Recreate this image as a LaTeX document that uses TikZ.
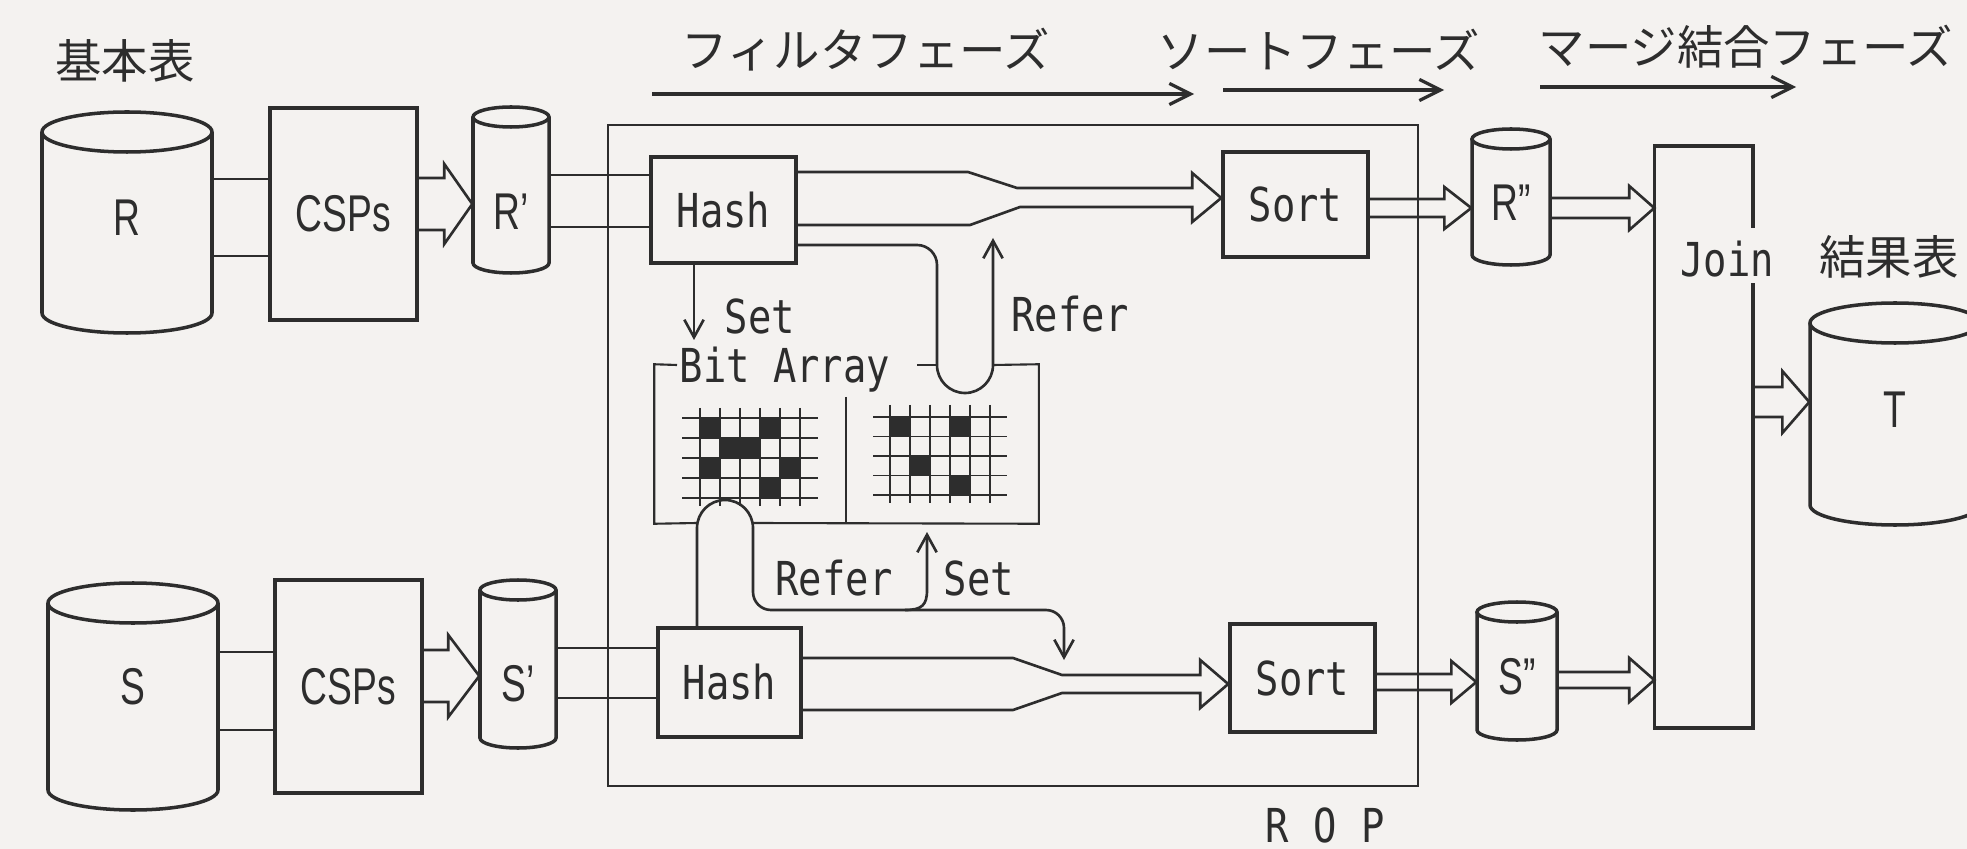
\documentclass[tikz,border=0pt]{standalone}
\usepackage{fontspec}
\usetikzlibrary{arrows.meta,calc}
\newfontfamily\jpf{Noto Sans CJK JP}
\newfontfamily\labf[FakeStretch=0.72]{Liberation Sans}
\newfontfamily\monof[FakeStretch=0.83]{DejaVu Sans Mono}
\definecolor{bg}{RGB}{244,242,240}
\definecolor{ink}{RGB}{45,45,45}
\tikzset{
  box/.style={draw=ink, line width=1pt, inner sep=0pt},
  conn/.style={draw=ink, line width=0.75pt, line join=miter},
  thinl/.style={draw=ink, line width=0.6pt},
  gridl/.style={draw=ink, line width=0.5pt},
  cyl/.style={draw=ink, line width=1pt},
  jp/.style={font=\jpf\fontsize{13.2}{14}\selectfont, text=ink, inner sep=0pt},
  lab/.style={font=\labf\fontsize{14.7}{16}\selectfont, text=ink, inner sep=0pt},
  mono/.style={font=\monof\fontsize{13.3}{15}\selectfont, text=ink, inner sep=0pt},
  barb/.style={-{Straight Barb[length=5pt,width=5.5pt]}},
}
% name, cx, ytop, yside, rx, ry, label y, label
\newcommand\dbcyl[8]{%
  \draw[cyl] (#2-#5,-#3) -- (#2-#5,-#4) arc[start angle=180,end angle=360,x radius=#5,y radius=#6] -- (#2+#5,-#3);
  \draw[cyl] (#2,-#3) ellipse[x radius=#5,y radius=#6];
  \path (#2,{-(#3+#4)/2}) node[inner sep=0pt, minimum width={2*#5*0.01cm}, minimum height={(#4-#3)*0.01cm}] (#1) {};
  \node[lab] (#1-t) at (#2,-#7) {#8};
}
% from, to, yc, half shaft, head length, head half
\newcommand\fatarr[6]{%
  \coordinate (ft) at (#2.west|-0,-#3);
  \draw[conn] (#1.east|-0,{-#3+#4}) -- ($(ft)+(-#5,#4)$) -- ($(ft)+(-#5,#6)$) -- (ft) -- ($(ft)+(-#5,-#6)$) -- ($(ft)+(-#5,-#4)$) -- (#1.east|-0,{-#3-#4});
}
\begin{document}
\begin{tikzpicture}[x=0.01cm,y=0.01cm]
\useasboundingbox (0,0) rectangle (1967,-849);
\fill[bg] (0,0) rectangle (1967,-849);

% ROP frame
\node[draw=ink, line width=0.6pt, inner sep=0pt, minimum width=8.1cm, minimum height=6.61cm] (rop) at (1013,-455.5) {};
\node[mono] (ropl) at (1325,-825) {R\kern7pt O\kern7pt P};

% phase labels
\node[jp] (base) at (125,-61) {基本表};
\node[jp] (ph1) at (866,-50) {フィルタフェーズ};
\node[jp] (ph2) at (1319,-50) {ソートフェーズ};
\node[jp] (ph3) at (1746,-47) {マージ結合フェーズ};
\node[jp] (res) at (1889,-257) {結果表};
\coordinate (p1s) at (652,-94); \coordinate (p1e) at (1194,-94);
\coordinate (p2s) at (1223,-90); \coordinate (p2e) at (1444,-90);
\coordinate (p3s) at (1540,-87); \coordinate (p3e) at (1796,-87);
\foreach \a/\b in {p1s/p1e,p2s/p2e,p3s/p3e}
  \draw[conn, line width=0.9pt, -{Straight Barb[length=6pt,width=6pt]}] (\a) -- (\b);

% cylinders
\dbcyl{R}{127}{132}{313}{85}{20}{218}{R}
\dbcyl{S}{133}{603}{790}{85}{20}{687}{S}
\dbcyl{Rp}{511}{117}{263}{38}{10}{212}{R’}
\dbcyl{Sp}{518}{590}{738}{38}{10}{684}{S’}
\dbcyl{Rpp}{1511}{139}{255}{39}{10}{203}{R”}
\dbcyl{Spp}{1517}{612}{730}{40}{10}{677}{S”}
\dbcyl{T}{1895}{323}{505}{85}{20}{410}{T}

% boxes
\node[box, minimum width=1.47cm, minimum height=2.12cm, lab] (csp1) at (343.5,-214) {CSPs};
\node[box, minimum width=1.47cm, minimum height=2.13cm, lab] (csp2) at (348.5,-686.5) {CSPs};
\node[box, minimum width=1.45cm, minimum height=1.06cm, mono] (hash1) at (723.5,-210) {Hash};
\node[box, minimum width=1.43cm, minimum height=1.09cm, mono] (hash2) at (729.5,-682.5) {Hash};
\node[box, minimum width=1.45cm, minimum height=1.05cm, mono] (sort1) at (1295.5,-204.5) {Sort};
\node[box, minimum width=1.45cm, minimum height=1.08cm, mono] (sort2) at (1302.5,-678) {Sort};

% Join box with gap for its label
\node[inner sep=0pt, minimum width=0.97cm, minimum height=5.8cm] (join) at (1703.5,-437) {};
\draw[box] (join.east|-0,-228) -- (join.north east) -- (join.north west) -- (join.south west) -- (join.south east) -- (join.east|-0,-283);
\node[mono] (joinl) at (1727,-259) {Join};

% plain double lines
\foreach \y in {179,256} \draw[conn] (R.east|-0,-\y) -- (csp1.west|-0,-\y);
\foreach \y in {652,730} \draw[conn] (S.east|-0,-\y) -- (csp2.west|-0,-\y);
\foreach \y in {175,227} \draw[conn] (Rp.east|-0,-\y) -- (hash1.west|-0,-\y);
\foreach \y in {648,698} \draw[conn] (Sp.east|-0,-\y) -- (hash2.west|-0,-\y);

% fat arrows
\fatarr{csp1}{Rp}{204}{26}{28}{40}
\fatarr{csp2}{Sp}{676}{26}{31}{41}
\fatarr{sort1}{Rpp}{208}{9}{27}{21}
\fatarr{sort2}{Spp}{682}{8}{25}{21}
\fatarr{Rpp}{join}{208}{10}{25}{22}
\fatarr{Spp}{join}{680}{8}{25}{22}
\fatarr{join}{T}{402}{15}{27}{31}

% tapered Hash -> Sort arrows
\coordinate (t1) at (sort1.west|-0,-198);
\draw[conn] (hash1.east|-0,-172) -- (968,-172) -- (1017,-188) -- ($(t1)+(-29,10)$) -- ($(t1)+(-29,25)$) -- (t1) -- ($(t1)+(-29,-24)$) -- ($(t1)+(-29,-9)$) -- (1020,-207) -- (970,-225) -- (hash1.east|-0,-225);
\coordinate (t2) at (sort2.west|-0,-684);
\draw[conn] (hash2.east|-0,-658) -- (1013,-658) -- (1062,-675) -- ($(t2)+(-28,9)$) -- ($(t2)+(-28,24)$) -- (t2) -- ($(t2)+(-28,-24)$) -- ($(t2)+(-28,-9)$) -- (1062,-693) -- (1013,-710) -- (hash2.east|-0,-710);

% Bit Array frame
\node[inner sep=0pt, minimum width=3.83cm, minimum height=1.58cm] (bitarr) at (846.5,-444) {};
\node[mono, anchor=base west] (bal) at (679,-383) {Bit Array};
\draw[thinl] (677,-365) -- (bitarr.north west) -- (bitarr.south west) -- (697,-523);
\draw[thinl] (753,-523) -- (bitarr.south east) -- (bitarr.north east) -- (993,-365);
\draw[thinl] (917,-365) -- (937,-365);
\draw[thinl] (846,-397) -- (846,-523);

% left grid
\foreach \i in {0,...,5} \draw[gridl] ({700+20*\i},-408) -- ({700+20*\i},-506);
\foreach \j in {0,...,4} \draw[gridl] (682,{-418-20*\j}) -- (818,{-418-20*\j});
\foreach \i/\j in {1/1,4/1,2/2,3/2,1/3,5/3,4/4}
  \fill[ink] ({700+20*(\i-1)},{-418-20*(\j-1)}) rectangle ++(20,-20);
% right grid
\foreach \i in {0,...,5} \draw[gridl] ({890+20*\i},-405) -- ({890+20*\i},-503);
\foreach \j in {0,...,4} \draw[gridl] (873,{-417-19.5*\j}) -- (1007,{-417-19.5*\j});
\foreach \i/\j in {1/1,4/1,2/3,4/4}
  \fill[ink] ({890+20*(\i-1)},{-417-19.5*(\j-1)}) rectangle ++(20,-19.5);

% Set / Refer (upper)
\coordinate (settip1) at (694,-340);
\draw[conn, barb] (hash1.south -| 694,0) -- (settip1);
\node[mono] (set1) at (760,-316) {Set};
\coordinate (ua) at (937,-365);
\coordinate (refertip1) at (993,-238);
\draw[conn, rounded corners=0.2cm] (hash1.east|-0,-245) -- (937,-245) -- (ua);
\draw[conn, barb] (ua) arc[start angle=180,end angle=360,radius=28] -- (refertip1);
\node[mono] (refer1) at (1070,-314) {Refer};

% Refer / Set (lower)
\coordinate (la) at (753,-528);
\coordinate (lowtip) at (1064,-660);
\draw[conn] (hash2.north -| 697,0) -- (697,-528) arc[start angle=180,end angle=0,radius=28];
\draw[conn, barb, rounded corners=0.18cm] (la) -- (753,-610) -- (1064,-610) -- (lowtip);
\coordinate (br) at (905,-610);
\coordinate (settip2) at (927,-532);
\draw[conn, barb] (br) .. controls (922,-610) and (927,-605) .. (927,-590) -- (settip2);
\node[mono] (refer2) at (834,-578) {Refer};
\node[mono] (set2) at (979,-578) {Set};
\end{tikzpicture}
\end{document}
